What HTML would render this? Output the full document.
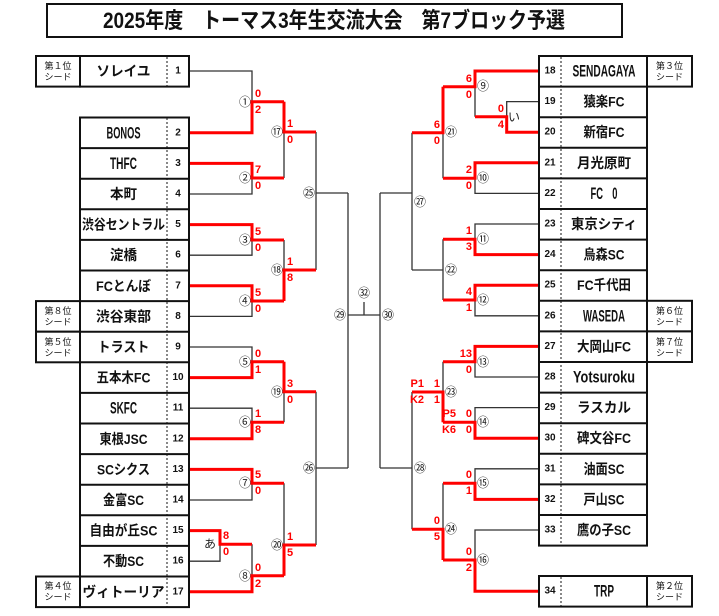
<!DOCTYPE html>
<html><head><meta charset="utf-8"><style>
html,body{margin:0;padding:0;background:#fff;}
svg{display:block;}
.nm{font-family:"Liberation Sans","Noto Sans CJK JP",sans-serif;font-weight:bold;font-size:14px;fill:#111;}
.la{font-size:17px;}
.no{font-family:"Liberation Sans",sans-serif;font-weight:bold;font-size:10px;fill:#111;}
.sd{font-family:"Liberation Sans","Noto Sans CJK JP",sans-serif;font-size:9px;fill:#111;}
.sc{font-family:"Liberation Sans",sans-serif;font-weight:bold;font-size:11px;fill:#f00;}
.mc{font-family:"Liberation Sans","Noto Sans CJK JP",sans-serif;font-size:12px;fill:#222;}
.bk{fill:none;stroke:#333;stroke-width:1.3;}
.rd{fill:none;stroke:#f00;stroke-width:3;}
.bx{fill:#fff;stroke:#111;stroke-width:2;}
</style></head><body>
<svg width="719" height="616" viewBox="0 0 719 616" xmlns="http://www.w3.org/2000/svg">
<rect x="47" y="4" width="575" height="33" fill="#fff" stroke="#111" stroke-width="2"/>
<text x="334" y="28" text-anchor="middle" textLength="462" lengthAdjust="spacingAndGlyphs" style="font-family:'Liberation Sans','Noto Sans CJK JP',sans-serif;font-weight:bold;font-size:22px;fill:#111">2025年度　トーマス3年生交流大会　第7ブロック予選</text>

<g class="bk">
<path d="M189 71H252V132.8H189M252 101.7H284"/>
<path d="M189 163.4H252V194H189M252 178H284"/>
<path d="M189 224.6H252V255.2H189M252 240H284"/>
<path d="M189 285.8H252V316.4H189M252 301H284"/>
<path d="M284 101.7V178M284 132H316"/>
<path d="M284 240V301M284 270H316"/>
<path d="M316 132V270M316 193H348"/>
<path d="M189 347H252V377.6H189M252 361.7H284"/>
<path d="M189 408.2H252V438.8H189M252 422.3H284"/>
<path d="M189 469.4H252V500H189M252 483.3H284"/>
<path d="M189 530.6H220V561.2H189M220 544.3H252"/>
<path d="M252 544.3V591.8H189M252 575.7H284"/>
<path d="M284 361.7V422.3M284 391.7H316"/>
<path d="M284 483.3V575.7M284 545H316"/>
<path d="M316 391.7V545M316 468H348"/>
<path d="M348 193V468M348 315H380M364 315V302"/>
<path d="M380 193V468"/>
<path d="M412 193H380M412 132.7V270"/>
<path d="M412 392V529.3M412 468H380"/>
<path d="M539 101.6H506.7V132.2H539M506.7 116.7H475"/>
<path d="M539 71H475V116.7M475 86.7H443"/>
<path d="M539 162.8H475V193.4H539M475 178.3H443"/>
<path d="M539 224H475V254.6H539M475 239.3H443"/>
<path d="M539 285.2H475V315.8H539M475 300H443"/>
<path d="M443 86.7V178.3M443 132.7H412"/>
<path d="M443 239.3V300M443 270H412"/>
<path d="M539 346.4H475V377H539M475 361.7H443"/>
<path d="M539 407.6H475V438.2H539M475 422.3H443"/>
<path d="M539 468.8H475V499.4H539M475 483.3H443"/>
<path d="M539 530H475V591.2H539M475 560H443"/>
<path d="M443 361.7V422.3M443 392H412"/>
<path d="M443 483.3V560M443 529.3H412"/>
</g>
<g class="rd">
<path d="M189 132.8H252V101.7H284"/>
<path d="M189 163.4H252V178H284"/>
<path d="M189 224.6H252V240H284"/>
<path d="M189 285.8H252V301H284"/>
<path d="M284 101.7V132H316"/>
<path d="M284 301V270H316"/>
<path d="M189 377.6H252V361.7H284"/>
<path d="M189 438.8H252V422.3H284"/>
<path d="M284 361.7V391.7H316"/>
<path d="M189 469.4H252V483.3H284"/>
<path d="M189 530.6H220V544.3H252"/>
<path d="M189 591.8H252V575.7H284"/>
<path d="M284 575.7V545H316"/>
<path d="M539 132.2H506.7V116.7H475"/>
<path d="M539 71H475V86.7H443"/>
<path d="M539 162.8H475V178.3H443"/>
<path d="M443 86.7V132.7H412"/>
<path d="M539 254.6H475V239.3H443"/>
<path d="M539 285.2H475V300H443"/>
<path d="M539 346.4H475V361.7H443"/>
<path d="M539 438.2H475V422.3H443"/>
<path d="M443 422.3V392H412"/>
<path d="M539 499.4H475V483.3H443"/>
<path d="M539 591.2H475V560H443"/>
<path d="M443 560V529.3H412"/>
</g>

<rect class="bx" x="36" y="56" width="44" height="30.6"/>
<rect class="bx" x="80" y="56" width="109" height="30.6"/>
<rect class="bx" x="80" y="117.5" width="109" height="489.6"/>
<g stroke="#111" stroke-width="2">
<line x1="80" y1="148.1" x2="189" y2="148.1"/><line x1="80" y1="178.7" x2="189" y2="178.7"/>
<line x1="80" y1="209.3" x2="189" y2="209.3"/><line x1="80" y1="239.9" x2="189" y2="239.9"/>
<line x1="80" y1="270.5" x2="189" y2="270.5"/><line x1="80" y1="301.1" x2="189" y2="301.1"/>
<line x1="80" y1="331.7" x2="189" y2="331.7"/><line x1="80" y1="362.3" x2="189" y2="362.3"/>
<line x1="80" y1="392.9" x2="189" y2="392.9"/><line x1="80" y1="423.5" x2="189" y2="423.5"/>
<line x1="80" y1="454.1" x2="189" y2="454.1"/><line x1="80" y1="484.7" x2="189" y2="484.7"/>
<line x1="80" y1="515.3" x2="189" y2="515.3"/><line x1="80" y1="545.9" x2="189" y2="545.9"/>
<line x1="80" y1="576.5" x2="189" y2="576.5"/>
</g>
<rect class="bx" x="36" y="301.1" width="44" height="30.6"/>
<rect class="bx" x="36" y="331.7" width="44" height="30.6"/>
<rect class="bx" x="36" y="576.5" width="44" height="30.6"/>
<g stroke="#111" stroke-width="1" stroke-dasharray="2,2">
<line x1="167" y1="57" x2="167" y2="86"/><line x1="167" y1="118" x2="167" y2="607"/>
</g>

<rect class="bx" x="539" y="56" width="108" height="489.6"/>
<rect class="bx" x="539" y="576" width="108" height="30.6"/>
<g stroke="#111" stroke-width="2">
<line x1="539" y1="86.6" x2="647" y2="86.6"/><line x1="539" y1="117.2" x2="647" y2="117.2"/>
<line x1="539" y1="147.8" x2="647" y2="147.8"/><line x1="539" y1="178.4" x2="647" y2="178.4"/>
<line x1="539" y1="209" x2="647" y2="209"/><line x1="539" y1="239.6" x2="647" y2="239.6"/>
<line x1="539" y1="270.2" x2="647" y2="270.2"/><line x1="539" y1="300.8" x2="647" y2="300.8"/>
<line x1="539" y1="331.4" x2="647" y2="331.4"/><line x1="539" y1="362" x2="647" y2="362"/>
<line x1="539" y1="392.6" x2="647" y2="392.6"/><line x1="539" y1="423.2" x2="647" y2="423.2"/>
<line x1="539" y1="453.8" x2="647" y2="453.8"/><line x1="539" y1="484.4" x2="647" y2="484.4"/>
<line x1="539" y1="515" x2="647" y2="515"/>
</g>
<rect class="bx" x="647" y="56" width="45" height="30.6"/>
<rect class="bx" x="647" y="300.8" width="45" height="30.6"/>
<rect class="bx" x="647" y="331.4" width="45" height="30.6"/>
<rect class="bx" x="647" y="576" width="45" height="30.6"/>
<g stroke="#111" stroke-width="1" stroke-dasharray="2,2">
<line x1="561" y1="57" x2="561" y2="545"/><line x1="561" y1="577" x2="561" y2="606"/>
</g>

<g class="sd" text-anchor="middle">
<text x="58" y="69">第１位</text><text x="58" y="80">シード</text>
<text x="58" y="314">第８位</text><text x="58" y="325">シード</text>
<text x="58" y="345">第５位</text><text x="58" y="356">シード</text>
<text x="58" y="589">第４位</text><text x="58" y="600">シード</text>
<text x="669.5" y="69">第３位</text><text x="669.5" y="80">シード</text>
<text x="669.5" y="314">第６位</text><text x="669.5" y="325">シード</text>
<text x="669.5" y="345">第７位</text><text x="669.5" y="356">シード</text>
<text x="669.5" y="589">第２位</text><text x="669.5" y="600">シード</text>
</g>

<g class="nm" text-anchor="middle" dominant-baseline="central">
<text x="123.5" y="71" textLength="54" lengthAdjust="spacingAndGlyphs">ソレイユ</text>
<text class="la" x="123.5" y="132.8" textLength="34" lengthAdjust="spacingAndGlyphs">BONOS</text>
<text class="la" x="123.5" y="163.4" textLength="27" lengthAdjust="spacingAndGlyphs">THFC</text>
<text x="123.5" y="194" textLength="27" lengthAdjust="spacingAndGlyphs">本町</text>
<text x="123.5" y="224.6" textLength="83" lengthAdjust="spacingAndGlyphs">渋谷セントラル</text>
<text x="123.5" y="255.2" textLength="27" lengthAdjust="spacingAndGlyphs">淀橋</text>
<text x="123.5" y="285.8" textLength="55" lengthAdjust="spacingAndGlyphs">FCとんぼ</text>
<text x="123.5" y="316.4" textLength="55" lengthAdjust="spacingAndGlyphs">渋谷東部</text>
<text x="123.5" y="347" textLength="52" lengthAdjust="spacingAndGlyphs">トラスト</text>
<text x="123.5" y="377.6" textLength="54" lengthAdjust="spacingAndGlyphs">五本木FC</text>
<text class="la" x="123.5" y="408.2" textLength="27" lengthAdjust="spacingAndGlyphs">SKFC</text>
<text x="123.5" y="438.8" textLength="48" lengthAdjust="spacingAndGlyphs">東根JSC</text>
<text x="123.5" y="469.4" textLength="53" lengthAdjust="spacingAndGlyphs">SCシクス</text>
<text x="123.5" y="500" textLength="41" lengthAdjust="spacingAndGlyphs">金富SC</text>
<text x="123.5" y="530.6" textLength="68" lengthAdjust="spacingAndGlyphs">自由が丘SC</text>
<text x="123.5" y="561.2" textLength="41" lengthAdjust="spacingAndGlyphs">不動SC</text>
<text x="123.5" y="591.8" textLength="82" lengthAdjust="spacingAndGlyphs">ヴィトーリア</text>
</g>
<g class="no" text-anchor="middle" dominant-baseline="central">
<text x="178" y="71">1</text><text x="178" y="132.8">2</text><text x="178" y="163.4">3</text><text x="178" y="194">4</text>
<text x="178" y="224.6">5</text><text x="178" y="255.2">6</text><text x="178" y="285.8">7</text><text x="178" y="316.4">8</text>
<text x="178" y="347">9</text><text x="178" y="377.6">10</text><text x="178" y="408.2">11</text><text x="178" y="438.8">12</text>
<text x="178" y="469.4">13</text><text x="178" y="500">14</text><text x="178" y="530.6">15</text><text x="178" y="561.2">16</text>
<text x="178" y="591.8">17</text>
<text x="550" y="71">18</text><text x="550" y="101.6">19</text><text x="550" y="132.2">20</text><text x="550" y="162.8">21</text>
<text x="550" y="193.4">22</text><text x="550" y="224">23</text><text x="550" y="254.6">24</text><text x="550" y="285.2">25</text>
<text x="550" y="315.8">26</text><text x="550" y="346.4">27</text><text x="550" y="377">28</text><text x="550" y="407.6">29</text>
<text x="550" y="438.2">30</text><text x="550" y="468.8">31</text><text x="550" y="499.4">32</text><text x="550" y="530">33</text>
<text x="550" y="591.2">34</text>
</g>
<g class="nm" text-anchor="middle" dominant-baseline="central">
<text class="la" x="604" y="71" textLength="63" lengthAdjust="spacingAndGlyphs">SENDAGAYA</text>
<text x="604" y="101.6" textLength="41" lengthAdjust="spacingAndGlyphs">猿楽FC</text>
<text x="604" y="132.2" textLength="41" lengthAdjust="spacingAndGlyphs">新宿FC</text>
<text x="604" y="162.8" textLength="54" lengthAdjust="spacingAndGlyphs">月光原町</text>
<text class="la" x="604" y="193.4" textLength="27" lengthAdjust="spacingAndGlyphs">FC　0</text>
<text x="604" y="224" textLength="66" lengthAdjust="spacingAndGlyphs">東京シティ</text>
<text x="604" y="254.6" textLength="41" lengthAdjust="spacingAndGlyphs">烏森SC</text>
<text x="604" y="285.2" textLength="54" lengthAdjust="spacingAndGlyphs">FC千代田</text>
<text class="la" x="604" y="315.8" textLength="42" lengthAdjust="spacingAndGlyphs">WASEDA</text>
<text x="604" y="346.4" textLength="54" lengthAdjust="spacingAndGlyphs">大岡山FC</text>
<text class="la" x="604" y="377" textLength="62" lengthAdjust="spacingAndGlyphs">Yotsuroku</text>
<text x="604" y="407.6" textLength="54" lengthAdjust="spacingAndGlyphs">ラスカル</text>
<text x="604" y="438.2" textLength="54" lengthAdjust="spacingAndGlyphs">碑文谷FC</text>
<text x="604" y="468.8" textLength="41" lengthAdjust="spacingAndGlyphs">油面SC</text>
<text x="604" y="499.4" textLength="41" lengthAdjust="spacingAndGlyphs">戸山SC</text>
<text x="604" y="530" textLength="54" lengthAdjust="spacingAndGlyphs">鷹の子SC</text>
<text class="la" x="604" y="591.2" textLength="20" lengthAdjust="spacingAndGlyphs">TRP</text>
</g>

<g class="sc" dominant-baseline="central">
<text x="255" y="94">0</text><text x="255" y="110">2</text>
<text x="255" y="170">7</text><text x="255" y="186">0</text>
<text x="255" y="232">5</text><text x="255" y="248">0</text>
<text x="255" y="293">5</text><text x="255" y="309">0</text>
<text x="287" y="124">1</text><text x="287" y="140">0</text>
<text x="287" y="262">1</text><text x="287" y="278">8</text>
<text x="255" y="354">0</text><text x="255" y="370">1</text>
<text x="255" y="414">1</text><text x="255" y="430">8</text>
<text x="287" y="384">3</text><text x="287" y="400">0</text>
<text x="255" y="475">5</text><text x="255" y="491">0</text>
<text x="223" y="536">8</text><text x="223" y="552">0</text>
<text x="255" y="568">0</text><text x="255" y="584">2</text>
<text x="287" y="537">1</text><text x="287" y="553">5</text>
</g>
<g class="sc" dominant-baseline="central" text-anchor="end">
<text x="504" y="109">0</text><text x="504" y="125">4</text>
<text x="472" y="79">6</text><text x="472" y="95">0</text>
<text x="472" y="170">2</text><text x="472" y="186">0</text>
<text x="440" y="125">6</text><text x="440" y="141">0</text>
<text x="472" y="231">1</text><text x="472" y="247">3</text>
<text x="472" y="292">4</text><text x="472" y="308">1</text>
<text x="472" y="354">13</text><text x="472" y="370">0</text>
<text x="472" y="414">0</text><text x="472" y="430">0</text>
<text x="456" y="414">P5</text><text x="456" y="430">K6</text>
<text x="440" y="384">1</text><text x="440" y="400">1</text>
<text x="424" y="384">P1</text><text x="424" y="400">K2</text>
<text x="472" y="475">0</text><text x="472" y="491">1</text>
<text x="472" y="552">0</text><text x="472" y="568">2</text>
<text x="440" y="521">0</text><text x="440" y="537">5</text>
</g>

<g class="mc" text-anchor="middle" dominant-baseline="central">
<text x="245" y="102">①</text><text x="245" y="178">②</text><text x="245" y="240">③</text><text x="245" y="301">④</text>
<text x="277" y="132">⑰</text><text x="277" y="270">⑱</text><text x="309" y="193">㉕</text>
<text x="245" y="362">⑤</text><text x="245" y="422">⑥</text><text x="245" y="483">⑦</text><text x="245" y="576">⑧</text>
<text x="210" y="544">あ</text>
<text x="277" y="392">⑲</text><text x="277" y="545">⑳</text><text x="309" y="468">㉖</text>
<text x="340" y="315">㉙</text><text x="364" y="293">㉜</text><text x="388" y="315">㉚</text>
<text x="514" y="117">い</text>
<text x="483" y="86">⑨</text><text x="483" y="178">⑩</text><text x="483" y="239">⑪</text><text x="483" y="300">⑫</text>
<text x="451" y="132">㉑</text><text x="451" y="270">㉒</text><text x="420" y="202">㉗</text>
<text x="483" y="362">⑬</text><text x="483" y="422">⑭</text><text x="483" y="483">⑮</text><text x="483" y="560">⑯</text>
<text x="451" y="392">㉓</text><text x="451" y="529">㉔</text><text x="420" y="468">㉘</text>
</g>
</svg>
</body></html>
